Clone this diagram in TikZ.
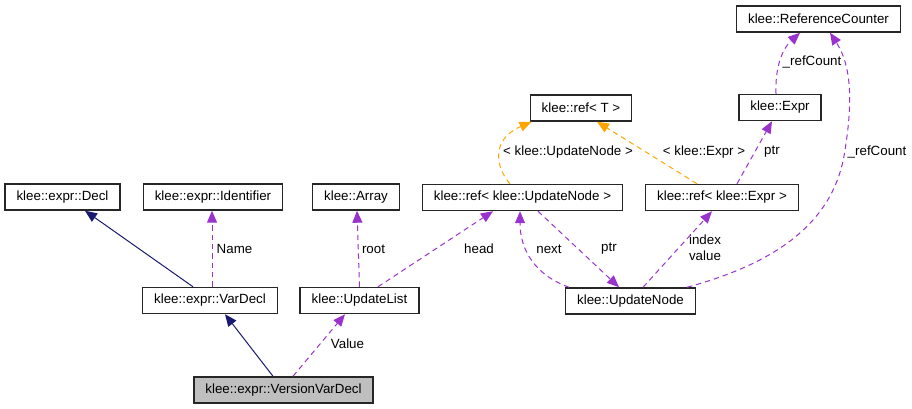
\documentclass[tikz,border=0pt]{standalone}
\usepackage{fontspec}
\setmainfont{Liberation Sans}
\usetikzlibrary{arrows.meta,calc}
\tikzset{every picture/.style={line width=0.75pt}}
\definecolor{inheritcol}{HTML}{191970}
\definecolor{usecol}{HTML}{9A32CD}
\definecolor{tmplcol}{HTML}{FFA500}
\definecolor{curcol}{HTML}{BFBFBF}
\tikzset{
  classbox/.style={draw=black!85, line width=1.1pt, inner xsep=8.6pt, inner ysep=0pt, minimum height=19.5pt, font=\fontsize{10}{12}\selectfont},
  curbox/.style={classbox, fill=curcol},
  inherit/.style={draw=inheritcol, -{Triangle[length=9pt,width=7.5pt]}},
  usage/.style={draw=usecol, dash pattern=on 4pt off 3pt, -{Triangle[length=9pt,width=7.5pt]}},
  tmpl/.style={draw=tmplcol, dash pattern=on 4pt off 3pt, -{Triangle[length=9pt,width=7.5pt]}},
  edgelabel/.style={inner sep=0.75pt, font=\fontsize{10}{12}\selectfont, align=center},
}
\begin{document}
\begin{tikzpicture}[x=0.75pt,y=0.75pt,yscale=-1,xscale=1]
\useasboundingbox (0,0) rectangle (912,409);

%Shape: Class boxes
\node [classbox] (decl) at (62.5,197) {klee::expr::Decl};
\node [classbox] (ident) at (213,197) {klee::expr::Identifier};
\node [classbox] (array) at (356,197) {klee::Array};
\node [classbox] (vardecl) at (210,300.5) {klee::expr::VarDecl};
\node [classbox] (updlist) at (359.5,300.5) {klee::UpdateList};
\node [curbox] (versvardecl) at (283.5,390) {klee::expr::VersionVarDecl};
\node [classbox] (refT) at (581,108) {klee::ref< T >};
\node [classbox] (refnode) at (522.5,197.5) {klee::ref< klee::UpdateNode >};
\node [classbox] (refexpr) at (722,197.5) {klee::ref< klee::Expr >};
\node [classbox] (expr) at (780,107.5) {klee::Expr};
\node [classbox] (refcnt) at (818.5,19) {klee::ReferenceCounter};
\node [classbox] (updnode) at (630.5,301) {klee::UpdateNode};

%Straight Lines: inheritance
\draw [inherit] ($(vardecl.north)+(-17,0)$) -- ($(decl.south)+(22.5,0)$);
\draw [inherit] ($(versvardecl.north)+(-10.5,0)$) -- ($(vardecl.south)+(15,0)$);

%Straight Lines: usage
\draw [usage] ($(vardecl.north)+(2,0)$) -- ($(ident.south)+(-1,0)$);
\draw [usage] ($(versvardecl.north)+(9.5,0)$) -- ($(updlist.south)+(-14.5,0)$);
\draw [usage] ($(updlist.north)+(0,0)$) -- ($(array.south)+(1,0)$);
\draw [usage] ($(updlist.north)+(18.5,0)$) -- ($(refnode.south)+(-29.5,0)$);
\draw [usage] ($(refexpr.north)+(15,0)$) -- ($(expr.south)+(-8,0)$);
\draw [usage] ($(refnode.south)+(15.5,0)$) -- ($(updnode.north)+(-11.5,0)$);
\draw [usage] ($(updnode.north)+(12.5,0)$) -- ($(refexpr.south)+(-10,0)$);

%Curve Lines: usage
\draw [usage] ($(expr.north)+(-4,0)$) .. controls (775,70) and (781,50) .. ($(refcnt.south)+(-18.5,0)$);
\draw [usage] ($(updnode.north)+(-61.5,0)$) .. controls (535,275) and (520,250) .. ($(refnode.south)+(-2.5,0)$);
\draw [usage] ($(updnode.north)+(56.5,0)$) .. controls (780,262) and (835,220) .. (845,150) .. controls (853,100) and (851,65) .. ($(refcnt.south)+(11.5,0)$);

%Lines: template instances
\draw [tmpl] ($(refnode.north)+(-12.5,0)$) .. controls (496,168) and (490,140) .. ($(refT.south west)+(2,0)$);
\draw [tmpl] ($(refexpr.north)+(-25,0)$) -- ($(refT.south)+(16,0)$);

% Text Node
\node [edgelabel] (lname) at (234.5,249) {Name};
% Text Node
\node [edgelabel] (lvalue) at (347.5,344) {Value};
% Text Node
\node [edgelabel] (lroot) at (373.5,249) {root};
% Text Node
\node [edgelabel] (lhead) at (479,249) {head};
% Text Node
\node [edgelabel] (lnext) at (549,249) {next};
% Text Node
\node [edgelabel] (lptrnode) at (609,249) {ptr};
% Text Node
\node [edgelabel] (lindex) at (705,248) {index\\value};
% Text Node
\node [edgelabel] (ltmplnode) at (568,152) {< klee::UpdateNode >};
% Text Node
\node [edgelabel] (ltmplexpr) at (704,152) {< klee::Expr >};
% Text Node
\node [edgelabel] (lptrexpr) at (772,152) {ptr};
% Text Node
\node [edgelabel] (lrefexpr) at (812,62) {\_refCount};
% Text Node
\node [edgelabel] (lrefnode) at (877,152) {\_refCount};

\end{tikzpicture}
\end{document}
